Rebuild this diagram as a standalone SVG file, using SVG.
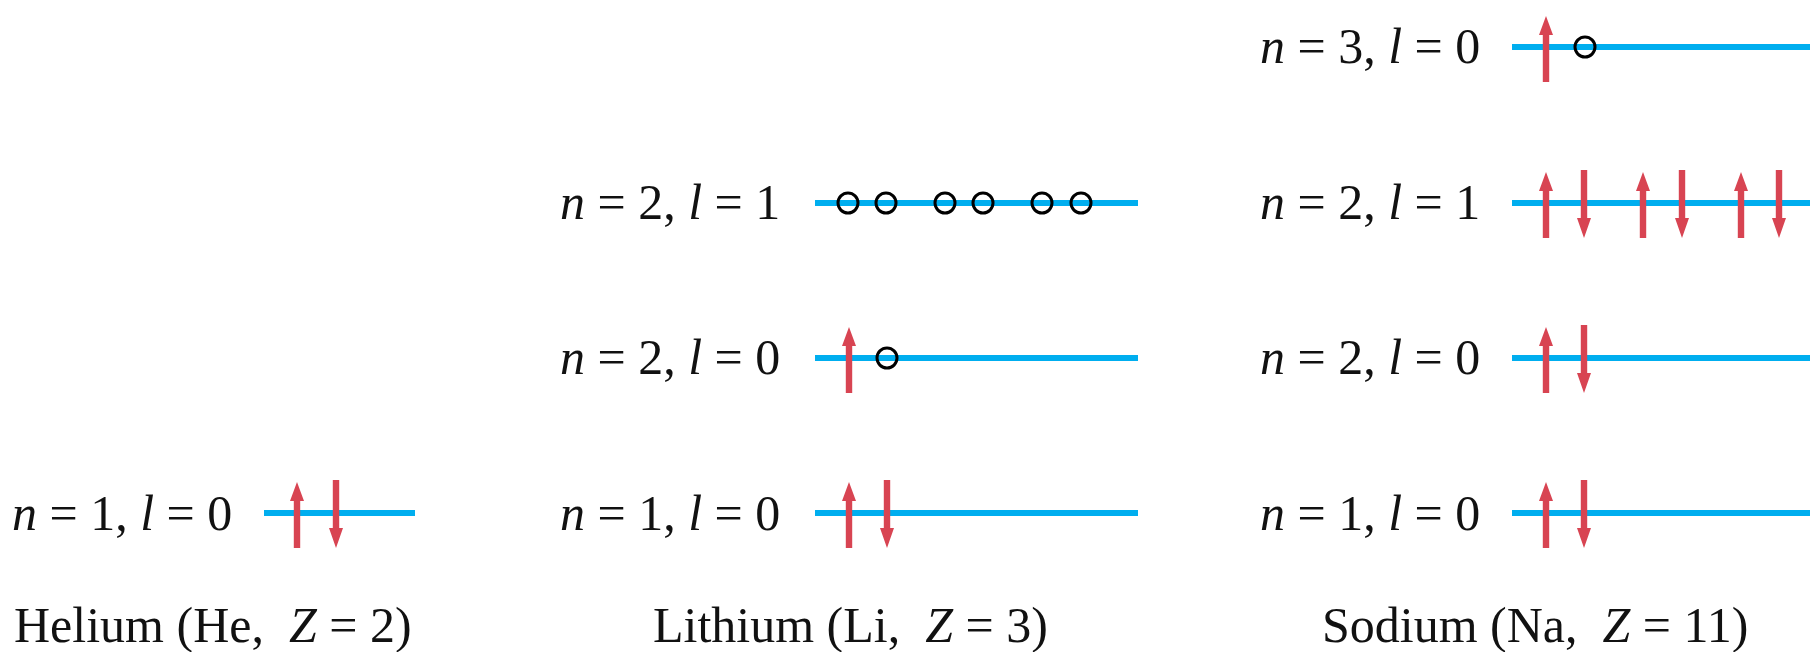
<svg xmlns="http://www.w3.org/2000/svg" width="1818" height="652" viewBox="0 0 1818 652">
<style>
.lvl{stroke:#00AEEF;stroke-width:6;fill:none}
.lab{font-family:"Liberation Serif","Times New Roman",serif;font-size:50px;fill:#111}
.cap{font-family:"Liberation Serif","Times New Roman",serif;font-size:50px;fill:#111}
.it{font-style:italic}
.hole{fill:none;stroke:#000;stroke-width:3}
.sp{fill:#D84452}
</style>
<defs>
<path id="up" d="M-3.2,35 L-3.2,-12 L-7,-12 L0,-31 L7,-12 L3.2,-12 L3.2,35 Z"/>
<path id="dn" d="M-3.2,-33 L-3.2,15 L-7,15 L0,35 L7,15 L3.2,15 L3.2,-33 Z"/>
</defs>
<g id="helium">
<text class="lab" x="12" y="530"><tspan class="it">n</tspan> = 1, <tspan class="it">l</tspan> = 0</text>
<line class="lvl" x1="264" y1="513" x2="415" y2="513"/>
<use href="#up" class="sp" x="297" y="513"/>
<use href="#dn" class="sp" x="336" y="513"/>
<text class="cap" x="14" y="642" xml:space="preserve">Helium (He,  <tspan class="it">Z</tspan> = 2)</text>
</g>
<g id="lithium">
<text class="lab" x="560" y="219"><tspan class="it">n</tspan> = 2, <tspan class="it">l</tspan> = 1</text>
<line class="lvl" x1="815" y1="203" x2="1138" y2="203"/>
<circle class="hole" cx="848" cy="203" r="10"/>
<circle class="hole" cx="886" cy="203" r="10"/>
<circle class="hole" cx="945" cy="203" r="10"/>
<circle class="hole" cx="983" cy="203" r="10"/>
<circle class="hole" cx="1042" cy="203" r="10"/>
<circle class="hole" cx="1081" cy="203" r="10"/>
<text class="lab" x="560" y="374"><tspan class="it">n</tspan> = 2, <tspan class="it">l</tspan> = 0</text>
<line class="lvl" x1="815" y1="358" x2="1138" y2="358"/>
<use href="#up" class="sp" x="849" y="358"/>
<circle class="hole" cx="887" cy="358" r="10"/>
<text class="lab" x="560" y="530"><tspan class="it">n</tspan> = 1, <tspan class="it">l</tspan> = 0</text>
<line class="lvl" x1="815" y1="513" x2="1138" y2="513"/>
<use href="#up" class="sp" x="849" y="513"/>
<use href="#dn" class="sp" x="887" y="513"/>
<text class="cap" x="653" y="642" xml:space="preserve">Lithium (Li,  <tspan class="it">Z</tspan> = 3)</text>
</g>
<g id="sodium">
<text class="lab" x="1260" y="63"><tspan class="it">n</tspan> = 3, <tspan class="it">l</tspan> = 0</text>
<line class="lvl" x1="1512" y1="47" x2="1810" y2="47"/>
<use href="#up" class="sp" x="1546" y="47"/>
<circle class="hole" cx="1585" cy="47" r="10"/>
<text class="lab" x="1260" y="219"><tspan class="it">n</tspan> = 2, <tspan class="it">l</tspan> = 1</text>
<line class="lvl" x1="1512" y1="203" x2="1810" y2="203"/>
<use href="#up" class="sp" x="1546" y="203"/>
<use href="#dn" class="sp" x="1584" y="203"/>
<use href="#up" class="sp" x="1643" y="203"/>
<use href="#dn" class="sp" x="1682" y="203"/>
<use href="#up" class="sp" x="1741" y="203"/>
<use href="#dn" class="sp" x="1779" y="203"/>
<text class="lab" x="1260" y="374"><tspan class="it">n</tspan> = 2, <tspan class="it">l</tspan> = 0</text>
<line class="lvl" x1="1512" y1="358" x2="1810" y2="358"/>
<use href="#up" class="sp" x="1546" y="358"/>
<use href="#dn" class="sp" x="1584" y="358"/>
<text class="lab" x="1260" y="530"><tspan class="it">n</tspan> = 1, <tspan class="it">l</tspan> = 0</text>
<line class="lvl" x1="1512" y1="513" x2="1810" y2="513"/>
<use href="#up" class="sp" x="1546" y="513"/>
<use href="#dn" class="sp" x="1584" y="513"/>
<text class="cap" x="1322" y="642" xml:space="preserve">Sodium (Na,  <tspan class="it">Z</tspan> = 11)</text>
</g>
<g id="connectors"/>
</svg>
